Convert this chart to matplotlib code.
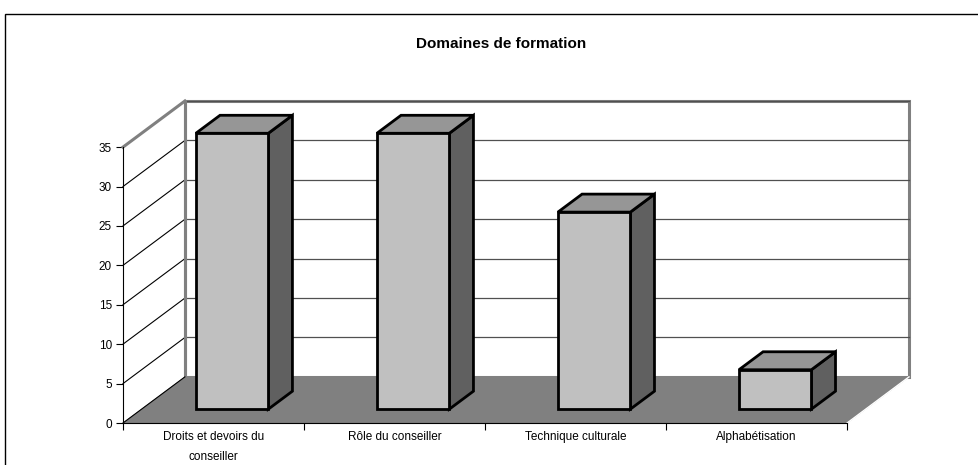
import matplotlib.pyplot as plt
from matplotlib.patches import Polygon, Rectangle

# données du graphique
categories = ['Droits et devoirs du\nconseiller', 'Rôle du conseiller',
              'Technique culturale', 'Alphabétisation']
valeurs = [35, 35, 25, 5]
yticks = [0, 5, 10, 15, 20, 25, 30, 35]

plt.rcParams['font.family'] = ['Liberation Sans', 'DejaVu Sans']

# profondeur 3D (en unités de données)
dx, dy = 0.342, 5.85
f0, f1 = 0.30, 0.69     # position des barres dans la profondeur
n = len(categories)
ymax = max(yticks)

fig = plt.figure(figsize=(9.79, 4.65), dpi=100)
ax = fig.add_axes([123 / 979, (465 - 423) / 465, (909 - 123) / 979, (423 - 101) / 465])
ax.set_xlim(0, n + dx)
ax.set_ylim(0, ymax + dy)

gris = '#808080'

# mur du fond
ax.add_patch(Rectangle((dx, dy), n, ymax, facecolor='white', edgecolor=gris, lw=2.2,
                       zorder=1, clip_on=False))
# lignes de quadrillage (fond + mur gauche)
for v in yticks[1:]:
    ax.plot([dx, n + dx], [v + dy, v + dy], color='#505050', lw=0.9, zorder=2, clip_on=False)
    ax.plot([0, dx], [v, v + dy], color='black', lw=0.8, zorder=2, clip_on=False)
ax.plot([0, dx], [ymax, ymax + dy], color=gris, lw=2.2, zorder=2, clip_on=False)
ax.plot([dx, dx], [dy, ymax + dy], color=gris, lw=2.2, zorder=2, clip_on=False)

# sol
ax.add_patch(Polygon([(0, 0), (n, 0), (n + dx, dy), (dx, dy)], closed=True,
                     facecolor=gris, edgecolor=gris, lw=0.5, zorder=3, clip_on=False))
ax.plot([n, n + dx], [0, dy], color='white', lw=1, zorder=3, clip_on=False)
ax.plot([0, dx], [0, dy], color='black', lw=0.8, zorder=3, clip_on=False)

# barres en 3D
for i, v in enumerate(valeurs):
    x0 = i + 0.3 + f0 * dx
    x1 = i + 0.7 + f0 * dx
    y0 = f0 * dy
    ddx = (f1 - f0) * dx
    ddy = (f1 - f0) * dy
    avant = [(x0, y0), (x1, y0), (x1, y0 + v), (x0, y0 + v)]
    dessus = [(x0, y0 + v), (x1, y0 + v), (x1 + ddx, y0 + v + ddy), (x0 + ddx, y0 + v + ddy)]
    cote = [(x1, y0), (x1 + ddx, y0 + ddy), (x1 + ddx, y0 + v + ddy), (x1, y0 + v)]
    for pts, c in [(cote, '#606060'), (dessus, '#969696'), (avant, '#c0c0c0')]:
        ax.add_patch(Polygon(pts, closed=True, facecolor=c, edgecolor='black',
                             lw=2, joinstyle='miter', zorder=5, clip_on=False))

# axes
for s in ['top', 'right']:
    ax.spines[s].set_visible(False)
ax.spines['left'].set_bounds(0, ymax)
ax.spines['bottom'].set_bounds(0, n)
ax.spines['left'].set_zorder(6)
ax.spines['bottom'].set_zorder(6)
ax.set_yticks(yticks)
ax.set_yticklabels([str(t) for t in yticks], fontsize=8.5)
ax.set_xticks(range(n + 1))
ax.set_xticklabels([''] * (n + 1))
ax.set_xticks([i + 0.5 for i in range(n)], minor=True)
ax.set_xticklabels(categories, minor=True, fontsize=8.5, linespacing=1.9)
ax.tick_params(axis='x', which='minor', length=0, pad=6)
ax.tick_params(axis='both', which='major', length=5, direction='out', width=0.8, pad=3)

fig.text(501 / 979, 1 - 44 / 465, 'Domaines de formation', ha='center', va='center',
         fontsize=11, fontweight='bold')

# cadre
fig.add_artist(Rectangle((5 / 979, -0.05), 1.1, 1 - 14 / 465 + 0.05, transform=fig.transFigure,
                         fill=False, edgecolor='black', lw=1))

fig.savefig('out.png', dpi=100)
